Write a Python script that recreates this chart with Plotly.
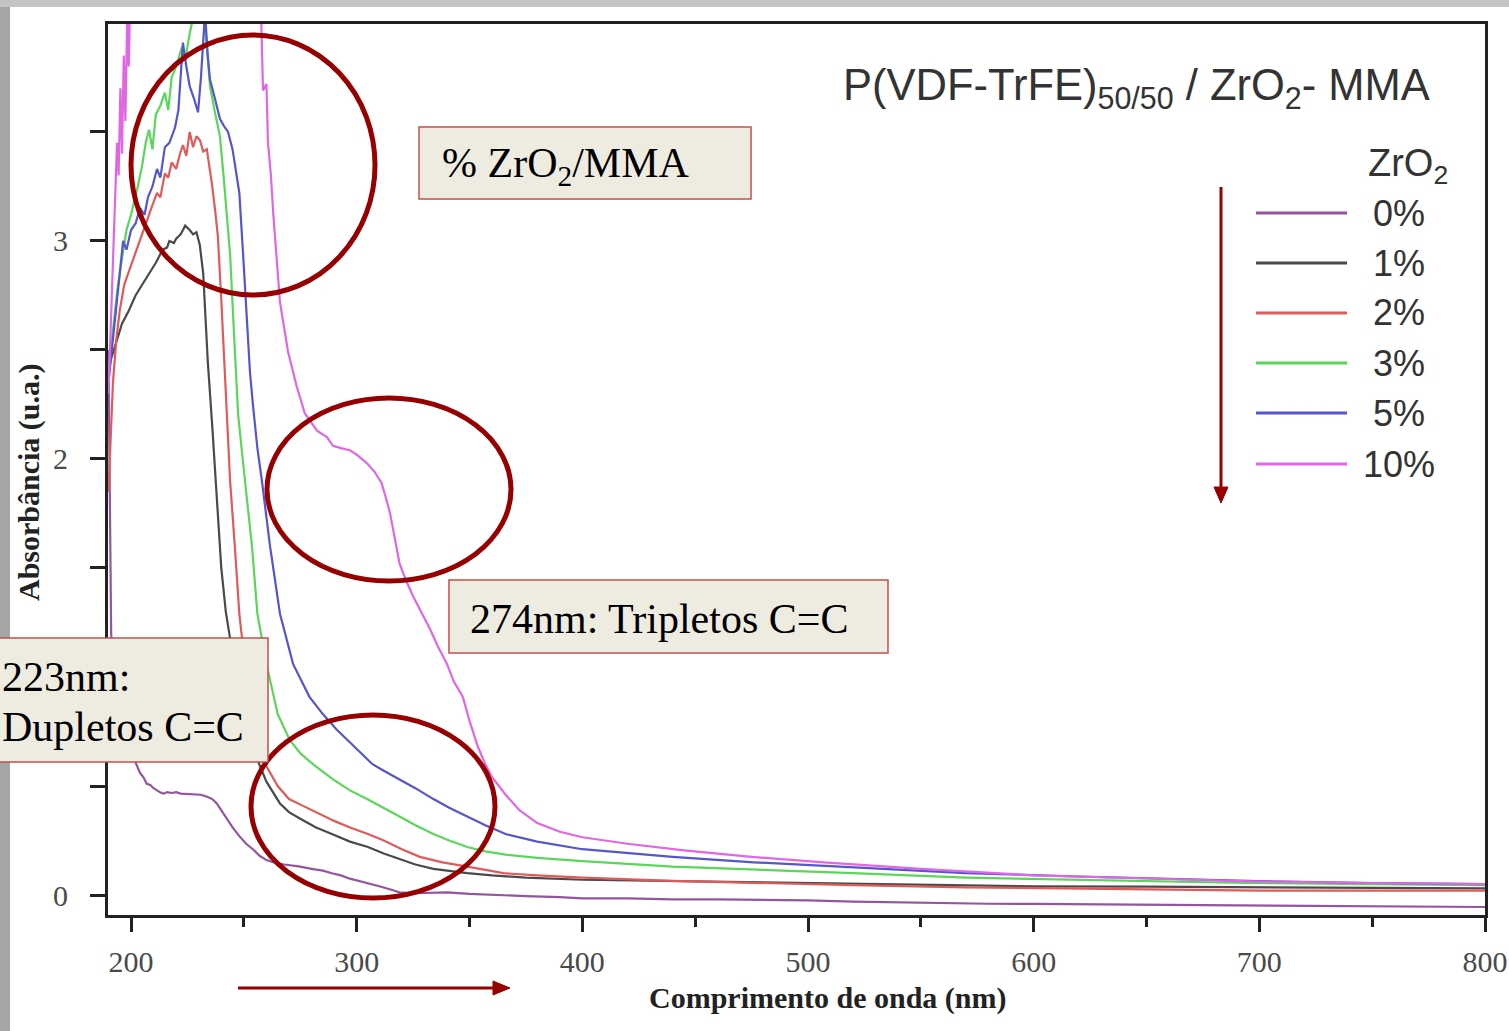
import plotly.graph_objects as go

# ---------------- data ----------------
series_names = ["0%", "1%", "2%", "3%", "5%", "10%"]
series_colors = ["#93559f", "#4a4a4a", "#e05a5a", "#5ad65a", "#5555cc", "#e066e6"]

wl_0 = [190, 190.6, 191.2, 192, 193.5, 195, 197, 199, 201, 202.6, 204, 205.5, 207, 208.5, 210, 211.5,
        213, 214.5, 216, 218, 220, 222, 225, 228, 231, 234, 236, 238, 240.5, 243, 245, 248, 251,
        254, 257, 260, 264, 268, 272, 275, 280, 285, 289, 293, 297, 301, 305, 310, 315, 319, 325,
        330, 340, 350, 360, 375, 390, 400, 420, 440, 460, 480, 500, 520, 540, 560, 580, 600, 625,
        650, 675, 700, 725, 750, 775, 800]
ab_0 = [2.5, 1.9, 1.2, 1.05, 0.92, 0.82, 0.74, 0.68, 0.63, 0.59, 0.56, 0.54, 0.51, 0.505, 0.49,
        0.48, 0.47, 0.465, 0.472, 0.468, 0.472, 0.465, 0.463, 0.46, 0.46, 0.45, 0.44, 0.42, 0.38,
        0.34, 0.31, 0.27, 0.235, 0.21, 0.18, 0.16, 0.147, 0.14, 0.135, 0.13, 0.12, 0.112, 0.10,
        0.09, 0.075, 0.065, 0.055, 0.04, 0.025, 0.012, 0.008, 0.01, 0.012, 0.005, 0.0, -0.005,
        -0.01, -0.015, -0.015, -0.02, -0.02, -0.022, -0.025, -0.03, -0.034, -0.038, -0.04, -0.041,
        -0.043, -0.044, -0.045, -0.047, -0.05, -0.051, -0.053, -0.055]

wl_1 = [190, 193, 196, 199, 202, 205, 208, 211, 214, 216, 217, 219, 220, 222, 224, 226, 227.5, 229,
        230.5, 232, 233, 234, 236, 238, 240, 242, 244, 247, 250, 253, 256, 260, 266, 270, 275, 282,
        289, 297, 305, 312, 319, 326, 334, 341, 349, 360, 375, 400, 430, 460, 500, 550, 600, 650,
        700, 750, 800]
ab_1 = [2.42, 2.52, 2.62, 2.68, 2.75, 2.8, 2.85, 2.9, 2.96, 2.97, 3.0, 2.99, 3.01, 3.03, 3.07, 3.05,
        3.03, 3.04, 2.98, 2.85, 2.65, 2.45, 2.15, 1.8, 1.5, 1.3, 1.17, 1.0, 0.86, 0.73, 0.62, 0.52,
        0.42, 0.38, 0.35, 0.31, 0.28, 0.245, 0.22, 0.19, 0.165, 0.14, 0.12, 0.11, 0.10, 0.09, 0.08,
        0.07, 0.065, 0.06, 0.055, 0.045, 0.04, 0.038, 0.035, 0.032, 0.03]

wl_2 = [190, 191, 192, 193.5, 195, 197, 199, 201, 203, 205, 207, 209, 211.5, 213, 215, 216.5, 218,
        220, 221.7, 223, 224.5, 226, 227.5, 229, 230.6, 232, 233.6, 235, 236, 237.5, 238.5, 240,
        241.6, 243.9, 246, 248, 250, 252, 254, 256, 258, 260, 265, 270, 276, 282, 290, 297, 305,
        312, 320, 328, 338, 349, 365, 380, 400, 440, 476, 520, 570, 620, 700, 750, 800]
ab_2 = [1.85, 2.1, 2.35, 2.55, 2.68, 2.8, 2.86, 2.92, 2.98, 3.04, 3.1, 3.15, 3.22, 3.2, 3.31, 3.29,
        3.36, 3.33, 3.40, 3.44, 3.39, 3.50, 3.43, 3.48, 3.46, 3.41, 3.42, 3.33, 3.25, 3.12, 3.02,
        2.73, 2.36, 1.90, 1.60, 1.29, 1.1, 0.95, 0.82, 0.72, 0.65, 0.59, 0.50, 0.44, 0.41, 0.38,
        0.34, 0.31, 0.28, 0.25, 0.21, 0.175, 0.15, 0.13, 0.10, 0.09, 0.08, 0.065, 0.055, 0.045,
        0.035, 0.03, 0.02, 0.02, 0.02]

wl_3 = [190, 192, 194, 196, 198, 200, 201, 203, 205, 206.5, 208, 209.5, 211, 213, 215, 216.5, 218,
        220, 222.6, 224, 226, 228, 230, 232, 233.5, 235, 237, 239.4, 241, 243.9, 246, 247.5, 250.5,
        253.6, 256, 260, 265, 270.4, 275, 280.6, 289.5, 297, 304.6, 312, 319, 326, 334, 341, 349,
        357, 366, 380, 400, 440, 476, 520, 570, 620, 695, 750, 800]
ab_3 = [2.4, 2.6, 2.78, 2.92, 3.05, 3.12, 3.16, 3.25, 3.35, 3.45, 3.51, 3.42, 3.58, 3.62, 3.68, 3.6,
        3.75, 3.8, 3.89, 3.83, 3.95, 4.05, 4.1, 4.05, 3.9, 3.71, 3.6, 3.48, 3.3, 2.94, 2.5, 2.2,
        1.90, 1.60, 1.29, 1.06, 0.83, 0.71, 0.65, 0.60, 0.53, 0.48, 0.44, 0.40, 0.36, 0.32, 0.28,
        0.25, 0.22, 0.20, 0.185, 0.17, 0.155, 0.13, 0.115, 0.10, 0.08, 0.07, 0.055, 0.05, 0.045]

wl_5 = [190, 192, 194, 196.5, 198, 200, 202, 204, 206, 207.5, 209.5, 211.5, 213, 215, 217, 219.5,
        221, 222, 223, 224.5, 226, 228, 229.7, 231, 232.8, 234, 235, 237, 239.4, 241, 243, 245,
        247, 248, 249.6, 250.5, 252.7, 254, 256, 258, 261.6, 266, 271.8, 279, 285, 291, 299, 307,
        312, 319, 326, 334, 341, 349, 357, 366, 380, 400, 440, 476, 520, 570, 620, 695, 750, 800]
ab_5 = [2.35, 2.55, 2.75, 3.0, 2.96, 3.05, 3.08, 3.15, 3.12, 3.2, 3.25, 3.33, 3.29, 3.43, 3.45, 3.52,
        3.6, 3.75, 3.91, 3.8, 3.71, 3.65, 3.59, 3.75, 4.05, 3.85, 3.74, 3.66, 3.56, 3.53, 3.50,
        3.42, 3.28, 3.22, 2.95, 2.8, 2.40, 2.25, 2.05, 1.90, 1.60, 1.29, 1.06, 0.91, 0.83, 0.76,
        0.68, 0.60, 0.57, 0.53, 0.49, 0.44, 0.40, 0.36, 0.32, 0.28, 0.245, 0.21, 0.175, 0.15,
        0.125, 0.10, 0.085, 0.065, 0.055, 0.05]

wl_10 = [190, 191, 192, 193, 193.8, 194.5, 195.3, 196, 196.8, 197.5, 198.3, 199, 200, 230, 256,
         257.5, 258, 258.5, 260, 260.7, 262, 263, 266, 269.6, 273.5, 277, 279, 282.4, 286.8, 289.5,
         293, 297, 300, 304.6, 308, 311, 313, 314.8, 317, 319, 322, 325, 329, 332.5, 336, 340, 343,
         347, 350, 353.7, 357, 360, 366, 372, 380, 390, 400, 420, 445, 475, 507, 550, 600, 650, 700,
         750, 800]
ab_10 = [2.3, 2.6, 2.9, 3.2, 3.45, 3.3, 3.7, 3.4, 3.85, 3.55, 4.02, 3.8, 4.3, 4.5, 4.3, 4.1, 3.9,
         3.69, 3.72, 3.45, 3.3, 3.13, 2.72, 2.49, 2.33, 2.21, 2.18, 2.13, 2.10, 2.06, 2.05, 2.04,
         2.02, 1.98, 1.94, 1.89, 1.82, 1.75, 1.63, 1.52, 1.44, 1.37, 1.29, 1.22, 1.14, 1.06, 0.98,
         0.91, 0.80, 0.68, 0.60, 0.54, 0.46, 0.39, 0.33, 0.29, 0.265, 0.235, 0.205, 0.175, 0.15,
         0.12, 0.09, 0.075, 0.062, 0.055, 0.05]

x_tick_vals = [200, 300, 400, 500, 600, 700, 800]
x_minor_vals = [250, 350, 450, 550, 650, 750]
y_tick_vals = [0, 2, 3]            # labelled ticks visible in the original
y_minor_vals = [0.5, 1, 1.5, 2.5, 3.5]

all_wl = [wl_0, wl_1, wl_2, wl_3, wl_5, wl_10]
all_ab = [ab_0, ab_1, ab_2, ab_3, ab_5, ab_10]

# ---------------- layout geometry (pixels of the 1509x1031 page) ----------------
W, H = 1509, 1031
L, R, T, B = 108, 24, 24, 116
PW, PH = W - L - R, H - T - B


def px(x):
    return (x - L) / PW


def py(y):
    return (H - B - y) / PH


fig = go.Figure()
for wl, ab, name, col in zip(all_wl, all_ab, series_names, series_colors):
    fig.add_trace(go.Scatter(x=wl, y=ab, mode="lines", name=name,
                             line=dict(color=col, width=2.2), showlegend=False))

shapes = []
annotations = []
DARKRED = "#960000"

# gray frame of the slide
shapes.append(dict(type="rect", xref="paper", yref="paper", x0=px(0), x1=px(10), y0=py(W), y1=py(0),
                   fillcolor="#a6a6a6", line=dict(width=0), layer="below"))
shapes.append(dict(type="rect", xref="paper", yref="paper", x0=px(0), x1=px(W), y0=py(7), y1=py(0),
                   fillcolor="#c4c4c4", line=dict(width=0), layer="below"))

# ellipses
for (x0, x1, y0, y1) in [(131, 375, 35, 295), (267, 511, 398, 581), (251, 495, 715, 898)]:
    shapes.append(dict(type="circle", xref="paper", yref="paper", x0=px(x0), x1=px(x1),
                       y0=py(y1), y1=py(y0), line=dict(color=DARKRED, width=5), layer="above"))

# text boxes
BOXFILL, BOXLINE = "#eeece1", "#c0504d"
for (x0, x1, y0, y1) in [(419, 751, 127, 199), (449, 888, 580, 653), (-10, 268, 638, 762)]:
    shapes.append(dict(type="rect", xref="paper", yref="paper", x0=px(x0), x1=px(x1),
                       y0=py(y1), y1=py(y0), fillcolor=BOXFILL,
                       line=dict(color=BOXLINE, width=1.5), layer="above"))

# arrows (line + triangular head)
shapes.append(dict(type="line", xref="paper", yref="paper", x0=px(1221), x1=px(1221),
                   y0=py(187), y1=py(490), line=dict(color=DARKRED, width=3), layer="above"))
shapes.append(dict(type="path", xref="paper", yref="paper",
                   path=f"M {px(1214)},{py(487)} L {px(1228)},{py(487)} L {px(1221)},{py(503)} Z",
                   fillcolor=DARKRED, line=dict(color=DARKRED, width=1), layer="above"))
shapes.append(dict(type="line", xref="paper", yref="paper", x0=px(238), x1=px(496),
                   y0=py(988), y1=py(988), line=dict(color=DARKRED, width=3), layer="above"))
shapes.append(dict(type="path", xref="paper", yref="paper",
                   path=f"M {px(493)},{py(981)} L {px(493)},{py(995)} L {px(510)},{py(988)} Z",
                   fillcolor=DARKRED, line=dict(color=DARKRED, width=1), layer="above"))

serif = "Liberation Serif"
sans = "Liberation Sans"
box_texts = [("% ZrO<sub>2</sub>/MMA", 440, 166), ("274nm: Tripletos C=C", 468, 619),
             ("223nm:", 0, 677), ("Dupletos C=C", 0, 727)]
for txt, x, y in box_texts:
    annotations.append(dict(text=txt, xref="paper", yref="paper", x=px(x), y=py(y),
                            xanchor="left", yanchor="middle", showarrow=False,
                            font=dict(family=serif, size=42, color="#000000")))

# chart title (inside plot)
annotations.append(dict(text="P(VDF-TrFE)<sub>50/50</sub> / ZrO<sub>2</sub>- MMA", xref="paper", yref="paper",
                        x=px(1432), y=py(88), xanchor="right", yanchor="middle", showarrow=False,
                        font=dict(family=sans, size=43.5, color="#333333")))

# legend (drawn by hand to mimic the original)
annotations.append(dict(text="ZrO<sub>2</sub>", xref="paper", yref="paper", x=px(1366), y=py(166),
                        xanchor="left", yanchor="middle", showarrow=False,
                        font=dict(family=sans, size=38, color="#333333")))
legend_y = [213, 263, 313, 363, 413, 464]
for name, col, ly in zip(series_names, series_colors, legend_y):
    shapes.append(dict(type="line", xref="paper", yref="paper", x0=px(1256), x1=px(1347),
                       y0=py(ly), y1=py(ly), line=dict(color=col, width=3), layer="above"))
    annotations.append(dict(text=name, xref="paper", yref="paper", x=px(1399), y=py(ly),
                            xanchor="center", yanchor="middle", showarrow=False,
                            font=dict(family=sans, size=36, color="#333333")))

# axis titles
annotations.append(dict(text="<b>Comprimento de onda (nm)</b>", xref="paper", yref="paper",
                        x=px(828), y=py(998), xanchor="center", yanchor="middle", showarrow=False,
                        font=dict(family=serif, size=30, color="#222222")))
annotations.append(dict(text="<b>Absorbância (u.a.)</b>", xref="paper", yref="paper",
                        x=px(29), y=py(482), xanchor="center", yanchor="middle", showarrow=False,
                        textangle=-90, font=dict(family=serif, size=30, color="#222222")))

fig.update_layout(
    width=W, height=H, autosize=False,
    margin=dict(l=L, r=R, t=T, b=B, pad=0),
    paper_bgcolor="white", plot_bgcolor="white",
    shapes=shapes, annotations=annotations, showlegend=False,
    xaxis=dict(range=[189.8, 800], showgrid=False, zeroline=False, automargin=False,
               showline=True, linewidth=3, linecolor="#222222", mirror=True,
               ticks="outside", ticklen=14, tickwidth=3, tickcolor="#222222",
               tickvals=x_tick_vals, ticktext=[str(v) for v in x_tick_vals],
               tickfont=dict(family=serif, size=30, color="#4a4a4a"), ticklabelstandoff=4,
               minor=dict(ticks="outside", ticklen=9, tickwidth=3, tickcolor="#222222",
                          tickvals=x_minor_vals, showgrid=False)),
    yaxis=dict(range=[-0.0917, 3.995], showgrid=False, zeroline=False, automargin=False,
               showline=True, linewidth=3, linecolor="#222222", mirror=True,
               ticks="outside", ticklen=15, tickwidth=3, tickcolor="#222222",
               tickvals=y_tick_vals, ticktext=[str(v) for v in y_tick_vals],
               tickfont=dict(family=serif, size=30, color="#4a4a4a"), ticklabelstandoff=16,
               minor=dict(ticks="outside", ticklen=15, tickwidth=3, tickcolor="#222222",
                          tickvals=y_minor_vals, showgrid=False)),
)

fig.write_html("out.html")
